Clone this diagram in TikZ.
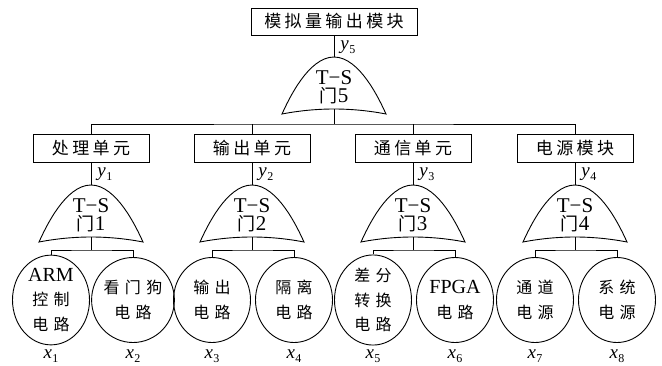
\documentclass[tikz,border=0pt]{standalone}
\usepackage{fontspec}
\setmainfont{Liberation Serif}
\newfontfamily\zh{Noto Sans CJK SC}
\newfontfamily\zhbox[LetterSpace=20]{Noto Sans CJK SC}
\newfontfamily\zhleaf[LetterSpace=33]{Noto Sans CJK SC}
\usetikzlibrary{shapes.geometric}
\newcommand\boxfont{\zhbox\fontsize{17}{17}\selectfont}
\newcommand\leaffont{\fontsize{20}{24.5}\selectfont}
\newcommand\lz[1]{{\zhleaf\fontsize{16}{24.5}\selectfont #1}}
\newcommand\varfont{\fontsize{19}{19}\selectfont}
\newcommand\gatefont{\fontsize{21}{18}\selectfont}
\newcommand\vsub[2]{\textit{#1}\kern0.5pt\raisebox{-4pt}{\fontsize{12}{12}\selectfont #2}}
\begin{document}
\begin{tikzpicture}[x=1pt,y=-1pt,line width=0.9pt,
  box/.style={draw,minimum width=116pt,minimum height=28pt,inner sep=0pt,font=\boxfont},
  leaf/.style={draw,ellipse,minimum width=77pt,minimum height=85pt,inner sep=0pt,align=center,font=\leaffont},
  var/.style={inner sep=0pt,font=\varfont},
  gtext/.style={inner sep=0pt,font=\gatefont,align=center},
  pics/gate/.style={code={
    \draw (-52,57) parabola bend (0,0) (52,57) parabola bend (0,52) (-52,57) -- cycle;
    \coordinate (-top) at (0,0);
    \coordinate (-bot) at (0,52);
    \node[gtext] (-txt) at (0,30) {T−S\\{\zh\fontsize{18}{18}\selectfont 门}#1};
  }}]
\useasboundingbox (0,0) rectangle (662,365);

% top
\node[box,minimum width=166pt,minimum height=27pt] (top) at (334,21.5) {模拟量输出模块};
\pic (g5) at (334,57) {gate=5};
\draw (top.south) -- (g5-top);
\node[var,anchor=base west] (y5) at (340,49) {\vsub{y}{5}};

% second level boxes
\node[box] (b1) at (91,148) {处理单元};
\node[box] (b2) at (252,148) {输出单元};
\node[box] (b3) at (413,148) {通信单元};
\node[box] (b4) at (575,148) {电源模块};
\coordinate (bus5) at (334,124);
\draw (g5-bot) -- (bus5);
\draw (b1.north) |- (bus5) -| (b4.north);
\draw (b2.north) -- (b2.north |- bus5);
\draw (b3.north) -- (b3.north |- bus5);

% gates
\pic (g1) at (91,185) {gate=1};
\pic (g2) at (252,185) {gate=2};
\pic (g3) at (413,185) {gate=3};
\pic (g4) at (575,185) {gate=4};
\draw (b1.south) -- (g1-top);
\draw (b2.south) -- (g2-top);
\draw (b3.south) -- (g3-top);
\draw (b4.south) -- (g4-top);
\node[var,anchor=base west] (y1) at (97,176) {\vsub{y}{1}};
\node[var,anchor=base west] (y2) at (258,176) {\vsub{y}{2}};
\node[var,anchor=base west] (y3) at (419,176) {\vsub{y}{3}};
\node[var,anchor=base west] (y4) at (581,176) {\vsub{y}{4}};

% leaves
\node[leaf] (l1) at (51,300) {ARM\\\lz{控制}\\\lz{电路}};
\node[leaf] (l2) at (133,300) {\lz{看门狗}\\\lz{电路}};
\node[leaf] (l3) at (212,300) {\lz{输出}\\\lz{电路}};
\node[leaf] (l4) at (294,300) {\lz{隔离}\\\lz{电路}};
\node[leaf] (l5) at (373,300) {\lz{差分}\\\lz{转换}\\\lz{电路}};
\node[leaf] (l6) at (455,300) {FPGA\\\lz{电路}};
\node[leaf] (l7) at (535,300) {\lz{通道}\\\lz{电源}};
\node[leaf] (l8) at (617,300) {\lz{系统}\\\lz{电源}};

\coordinate (bus1) at (91,250);
\coordinate (bus2) at (252,250);
\coordinate (bus3) at (413,250);
\coordinate (bus4) at (575,250);
\draw (g1-bot) -- (bus1);
\draw (g2-bot) -- (bus2);
\draw (g3-bot) -- (bus3);
\draw (g4-bot) -- (bus4);
\draw (l1.north) |- (bus1) -| (l2.north);
\draw (l3.north) |- (bus2) -| (l4.north);
\draw (l5.north) |- (bus3) -| (l6.north);
\draw (l7.north) |- (bus4) -| (l8.north);

% x labels
\node[var,anchor=base] (x1) at (51,358) {\vsub{x}{1}};
\node[var,anchor=base] (x2) at (133,358) {\vsub{x}{2}};
\node[var,anchor=base] (x3) at (212,358) {\vsub{x}{3}};
\node[var,anchor=base] (x4) at (294,358) {\vsub{x}{4}};
\node[var,anchor=base] (x5) at (373,358) {\vsub{x}{5}};
\node[var,anchor=base] (x6) at (455,358) {\vsub{x}{6}};
\node[var,anchor=base] (x7) at (535,358) {\vsub{x}{7}};
\node[var,anchor=base] (x8) at (617,358) {\vsub{x}{8}};
\end{tikzpicture}
\end{document}
